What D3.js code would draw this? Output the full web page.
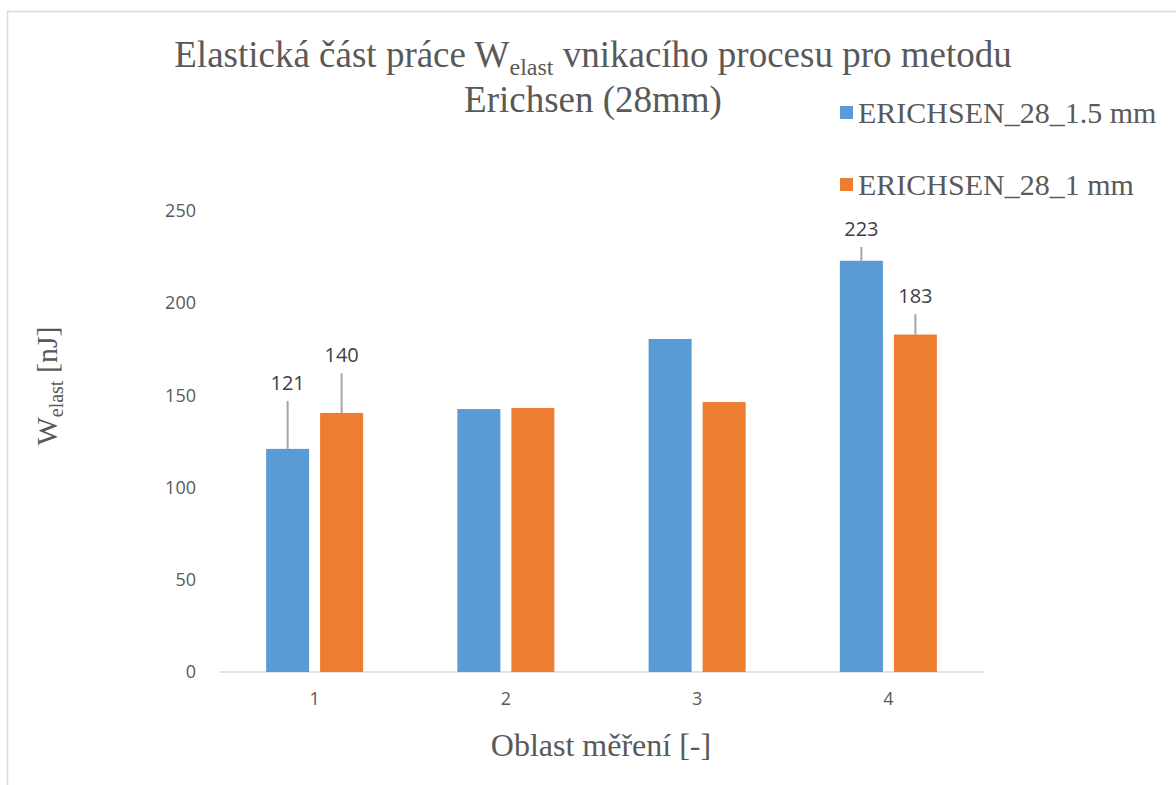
<!DOCTYPE html>
<html><head><meta charset="utf-8">
<script src="https://cdn.jsdelivr.net/npm/d3@7"></script>
<style>html,body{margin:0;padding:0;background:#fff;}svg{display:block;}</style>
</head><body>
<svg id="chart" width="1176" height="785"></svg>
<script>
const categories = ["1", "2", "3", "4"];
const seriesNames = ["ERICHSEN_28_1.5 mm", "ERICHSEN_28_1 mm"];
const values15 = [121, 142.6, 180.6, 223];
const values1 = [140.5, 143.2, 146.4, 183];
const errPlus15 = [26, 0, 0, 7.5];
const errPlus1 = [21.5, 0, 0, 11];
const labels15 = ["121", "", "", "223"];
const labels1 = ["140", "", "", "183"];
const yTicks = [0, 50, 100, 150, 200, 250];
const colors = ["#5b9bd5", "#ed7d31"];

const svg = d3.select("#chart");
// outer border
svg.append("path").attr("d", "M7.5,785 L7.5,11.5 L1176,11.5")
  .attr("fill", "none").attr("stroke", "#d9d9d9").attr("stroke-width", 1.5);

const x0 = d3.scaleBand().domain(categories).range([219, 984]).paddingInner(0).paddingOuter(0);
const y = d3.scaleLinear().domain([0, 250]).range([672, 211]);
const barW = 43, gap = 11;

// axis line
svg.append("line").attr("x1", 219).attr("x2", 984).attr("y1", y(0)).attr("y2", y(0))
  .attr("stroke", "#d9d9d9").attr("stroke-width", 1.5);

const sans = "'Open Sans', 'Liberation Sans', sans-serif";
// y tick labels
const yAxis = d3.axisLeft(y).tickValues(yTicks).tickSize(0).tickPadding(0);
const gy = svg.append("g").attr("transform", "translate(196,0)").call(yAxis);
gy.select(".domain").remove();
gy.selectAll("text").attr("font-family", sans).attr("font-size", 18).attr("fill", "#595959");

// x tick labels
const xAxis = d3.axisBottom(x0).tickSize(0).tickPadding(0);
const gx = svg.append("g").attr("transform", "translate(0,692)").call(xAxis);
gx.select(".domain").remove();
gx.selectAll("text").attr("font-family", sans).attr("font-size", 18).attr("fill", "#595959");

const series = [
  {vals: values15, err: errPlus15, labels: labels15, off: -gap/2 - barW},
  {vals: values1, err: errPlus1, labels: labels1, off: gap/2}
];
series.forEach((s, si) => {
  const rows = categories.map((c, i) => ({c, v: s.vals[i], e: s.err[i], l: s.labels[i]}));
  const cx = (d) => x0(d.c) + x0.bandwidth()/2 + s.off;
  const g = svg.append("g");
  g.selectAll("rect").data(rows).join("rect")
    .attr("x", cx)
    .attr("width", barW)
    .attr("y", (d) => y(d.v))
    .attr("height", (d) => y(0) - y(d.v))
    .attr("fill", colors[si]);
  g.selectAll("line").data(rows.filter((d) => d.e > 0)).join("line")
    .attr("x1", (d) => cx(d) + barW/2)
    .attr("x2", (d) => cx(d) + barW/2)
    .attr("y1", (d) => y(d.v))
    .attr("y2", (d) => y(d.v + d.e))
    .attr("stroke", "#a5a5a5").attr("stroke-width", 2);
  g.selectAll("text").data(rows.filter((d) => d.l)).join("text")
    .attr("x", (d) => cx(d) + barW/2)
    .attr("y", (d) => y(d.v + d.e) - 11)
    .attr("text-anchor", "middle")
    .attr("font-family", sans)
    .attr("font-size", 20).attr("fill", "#404040")
    .text((d) => d.l);
});

// title
const serif = "'Liberation Serif', 'Times New Roman', serif";
const t1 = svg.append("text").attr("x", 593).attr("y", 67).attr("text-anchor", "middle")
  .attr("font-family", serif).attr("font-size", 37).attr("fill", "#595959");
t1.append("tspan").text("Elastická část práce W");
t1.append("tspan").attr("font-size", 24).attr("dy", 8).text("elast");
t1.append("tspan").attr("dy", -8).text(" vnikacího procesu pro metodu");
svg.append("text").attr("x", 593).attr("y", 112).attr("text-anchor", "middle")
  .attr("font-family", serif).attr("font-size", 37).attr("fill", "#595959")
  .text("Erichsen (28mm)");

// legend
const legY = [113, 185];
seriesNames.forEach((n, i) => {
  svg.append("rect").attr("x", 840).attr("y", legY[i] - 7).attr("width", 13).attr("height", 13).attr("fill", colors[i]);
  svg.append("text").attr("x", 858).attr("y", legY[i] + 10)
    .attr("font-family", serif).attr("font-size", 30).attr("fill", "#595959").text(n);
});

// y axis title
const yt = svg.append("text").attr("transform", "translate(57,386) rotate(-90)")
  .attr("text-anchor", "middle").attr("font-family", serif).attr("font-size", 30).attr("fill", "#595959");
yt.append("tspan").text("W");
yt.append("tspan").attr("font-size", 20).attr("dy", 6).text("elast");
yt.append("tspan").attr("dy", -6).text(" [nJ]");

// x axis title
svg.append("text").attr("x", 601).attr("y", 756).attr("text-anchor", "middle")
  .attr("font-family", serif).attr("font-size", 32).attr("fill", "#595959").text("Oblast měření [-]");
</script>
</body></html>
